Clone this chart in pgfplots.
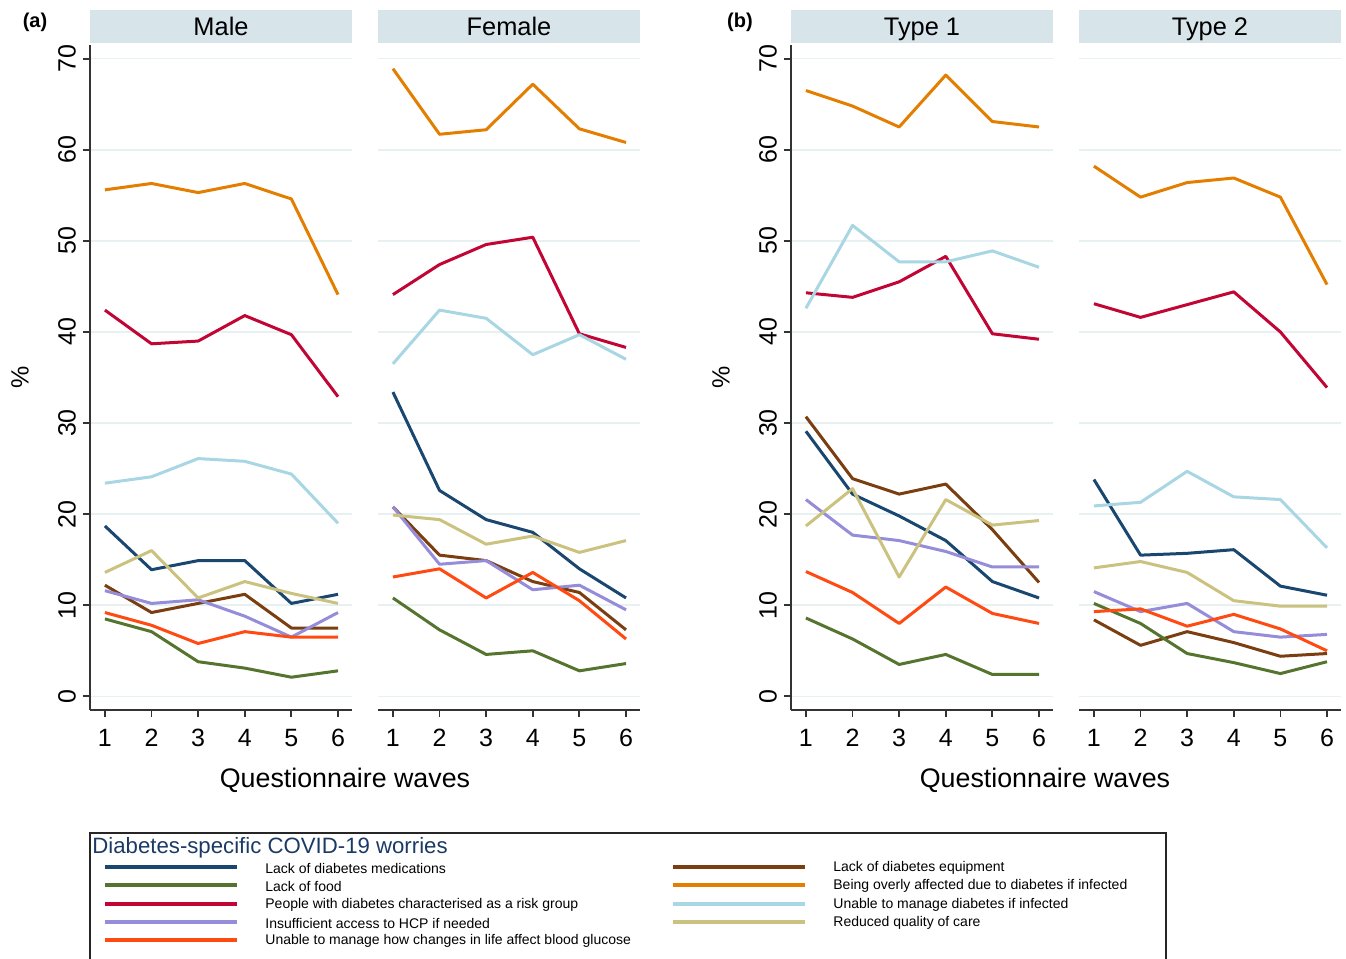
\documentclass[border=0pt]{standalone}
\usepackage{pgfplots}
\pgfplotsset{compat=1.18}
\usepackage{pgfplotstable}
\usepackage{fontspec}
\setmainfont{Liberation Sans}

\definecolor{cnav}{HTML}{1A476F}
\definecolor{cgrn}{HTML}{55752F}
\definecolor{cred}{HTML}{C10534}
\definecolor{cpur}{HTML}{958CDA}
\definecolor{cror}{HTML}{FF4A12}
\definecolor{cbrn}{HTML}{7A3E10}
\definecolor{corg}{HTML}{E37E00}
\definecolor{clbl}{HTML}{A8D6E3}
\definecolor{ckha}{HTML}{CAC27E}
\definecolor{gridc}{HTML}{E8F1F2}
\definecolor{stripc}{HTML}{D7E4EA}
\definecolor{axc}{HTML}{333333}
\definecolor{titlec}{HTML}{1A3A66}

\pgfplotstableread{
x nav grn red pur ror brn org lbl kha
1 18.7 8.5 42.4 11.6 9.2 12.2 55.6 23.4 13.6
2 13.9 7.1 38.7 10.2 7.8 9.2 56.3 24.1 16.0
3 14.9 3.8 39.0 10.6 5.8 10.2 55.3 26.1 10.8
4 14.9 3.1 41.8 8.8 7.1 11.2 56.3 25.8 12.6
5 10.2 2.1 39.7 6.5 6.5 7.5 54.6 24.4 11.3
6 11.2 2.8 32.9 9.2 6.5 7.5 44.1 19.0 10.2
}\male
\pgfplotstableread{
x nav grn red pur ror brn org lbl kha
1 33.4 10.8 44.1 20.8 13.1 20.8 68.9 36.5 19.9
2 22.6 7.3 47.4 14.5 14.0 15.5 61.7 42.4 19.4
3 19.4 4.6 49.6 14.9 10.8 14.9 62.2 41.5 16.7
4 18.0 5.0 50.4 11.7 13.6 12.6 67.2 37.5 17.6
5 14.0 2.8 39.8 12.2 10.5 11.4 62.3 39.7 15.8
6 10.8 3.6 38.3 9.5 6.3 7.3 60.8 37.0 17.1
}\female
\pgfplotstableread{
x nav grn red pur ror brn org lbl kha
1 29.1 8.6 44.3 21.6 13.7 30.7 66.5 42.6 18.7
2 22.2 6.3 43.8 17.7 11.4 23.9 64.8 51.7 22.8
3 19.8 3.5 45.5 17.1 8.0 22.2 62.5 47.7 13.1
4 17.1 4.6 48.3 15.9 12.0 23.3 68.2 47.7 21.6
5 12.6 2.4 39.8 14.2 9.1 18.3 63.1 48.9 18.8
6 10.8 2.4 39.2 14.2 8.0 12.5 62.5 47.1 19.3
}\typeone
\pgfplotstableread{
x nav grn red pur ror brn org lbl kha
1 23.8 10.2 43.1 11.5 9.3 8.4 58.2 20.9 14.1
2 15.5 8.0 41.6 9.3 9.6 5.6 54.8 21.3 14.8
3 15.7 4.7 43.0 10.2 7.7 7.1 56.4 24.7 13.6
4 16.1 3.7 44.4 7.1 9.0 5.9 56.9 21.9 10.5
5 12.1 2.5 40.0 6.5 7.4 4.4 54.8 21.6 9.9
6 11.1 3.8 33.9 6.8 5.0 4.7 45.2 16.3 9.9
}\typetwo

\pgfplotsset{
  panel/.style={
    scale only axis, width=131pt, height=332.5pt,
    anchor=south west,
    xmin=0.68, xmax=6.3, ymin=-1.5, ymax=71.5,
    xtick={1,2,3,4,5,6}, ytick={0,10,20,30,40,50,60,70},
    axis x line*=bottom, axis y line*=left,
    tick align=outside, major tick length=3.5pt,
    ymajorgrids, grid style={color=gridc, line width=0.8pt},
    axis line style={color=axc, line width=0.9pt},
    tick style={color=axc, line width=0.9pt},
    /pgf/number format/assume math mode=true,
    ticklabel style={font=\fontsize{12.5}{14}\selectfont, text=black},
    xticklabel style={yshift=-2.5pt},
    yticklabel style={rotate=90, anchor=south},
    every axis title shift=0pt,
    title style={at={(0.5,1)}, anchor=south, yshift=1pt, fill=stripc,
      minimum width=131pt, minimum height=16.5pt, inner sep=0pt,
      text height=11pt, text depth=1.8pt,
      font=\fontsize{12.7}{14}\selectfont},
    every axis y label/.style={at={(rel axis cs:0,0.5)}, xshift=-35pt, rotate=90, anchor=center,
      font=\fontsize{12.5}{14}\selectfont},
    every axis plot/.append style={line width=1.5pt, no markers, line join=round},
  },
  noy/.style={y axis line style={draw=none}, yticklabels={}, major y tick style={draw=none}},
}

\newcommand{\allseries}[1]{%
  \addplot[color=cnav] table[x=x,y=nav]{#1};
  \addplot[color=cbrn] table[x=x,y=brn]{#1};
  \addplot[color=cgrn] table[x=x,y=grn]{#1};
  \addplot[color=corg] table[x=x,y=org]{#1};
  \addplot[color=cred] table[x=x,y=red]{#1};
  \addplot[color=clbl] table[x=x,y=lbl]{#1};
  \addplot[color=cpur] table[x=x,y=pur]{#1};
  \addplot[color=ckha] table[x=x,y=kha]{#1};
  \addplot[color=cror] table[x=x,y=ror]{#1};
}

\begin{document}
\begin{tikzpicture}
\useasboundingbox (0,0) rectangle (673pt,-479.5pt);
\clip (0,0) rectangle (673pt,-479.5pt);

\begin{axis}[panel, at={(45pt,-355pt)}, title={Male}, ylabel={\%}]
\allseries{\male}
\end{axis}
\begin{axis}[panel, noy, at={(189pt,-355pt)}, title={Female}]
\allseries{\female}
\end{axis}
\begin{axis}[panel, at={(395.5pt,-355pt)}, title={Type 1}, ylabel={\%}]
\allseries{\typeone}
\end{axis}
\begin{axis}[panel, noy, at={(539.5pt,-355pt)}, title={Type 2}]
\allseries{\typetwo}
\end{axis}

\node[font=\bfseries\fontsize{10}{12}\selectfont] at (17.5pt,-11pt) {(a)};
\node[font=\bfseries\fontsize{10}{12}\selectfont] at (370pt,-11pt) {(b)};
\node[font=\fontsize{13.4}{15}\selectfont] at (172.5pt,-390pt) {Questionnaire waves};
\node[font=\fontsize{13.4}{15}\selectfont] at (522.5pt,-390pt) {Questionnaire waves};

% legend
\draw[line width=1pt, color=black!85] (45pt,-416.5pt) rectangle (583pt,-500pt);
\node[anchor=west, inner sep=0pt, text=titlec, font=\fontsize{11.1}{13}\selectfont] at (46pt,-424pt) {Diabetes-specific COVID-19 worries};
\begin{scope}[line width=2pt]
\draw[cnav] (52.5pt,-433.5pt) -- (118.5pt,-433.5pt);
\draw[cgrn] (52.5pt,-442.5pt) -- (118.5pt,-442.5pt);
\draw[cred] (52.5pt,-452pt) -- (118.5pt,-452pt);
\draw[cpur] (52.5pt,-461pt) -- (118.5pt,-461pt);
\draw[cror] (52.5pt,-470pt) -- (118.5pt,-470pt);
\draw[cbrn] (336.5pt,-433.5pt) -- (402.5pt,-433.5pt);
\draw[corg] (336.5pt,-442.5pt) -- (402.5pt,-442.5pt);
\draw[clbl] (336.5pt,-452pt) -- (402.5pt,-452pt);
\draw[ckha] (336.5pt,-461pt) -- (402.5pt,-461pt);
\end{scope}
\begin{scope}[every node/.style={anchor=west, inner sep=0pt, font=\fontsize{7}{8}\selectfont}]
\node at (132.5pt,-434pt) {Lack of diabetes medications};
\node at (132.5pt,-443pt) {Lack of food};
\node at (132.5pt,-452.5pt) {People with diabetes characterised as a risk group};
\node at (132.5pt,-461.5pt) {Insufficient access to HCP if needed};
\node at (132.5pt,-470.5pt) {Unable to manage how changes in life affect blood glucose};
\node at (416.5pt,-434pt) {Lack of diabetes equipment};
\node at (416.5pt,-443pt) {Being overly affected due to diabetes if infected};
\node at (416.5pt,-452.5pt) {Unable to manage diabetes if infected};
\node at (416.5pt,-461.5pt) {Reduced quality of care};
\end{scope}
\end{tikzpicture}
\end{document}
